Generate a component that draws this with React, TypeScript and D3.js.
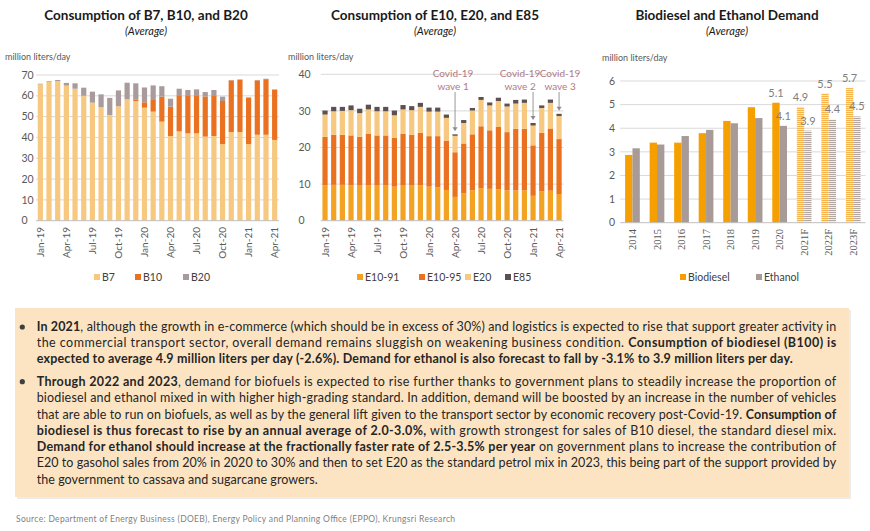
import * as d3 from "d3";

// ---- data ----
const months = [
  "Jan-19", "Feb-19", "Mar-19", "Apr-19", "May-19", "Jun-19", "Jul-19", "Aug-19", "Sep-19", "Oct-19",
  "Nov-19", "Dec-19", "Jan-20", "Feb-20", "Mar-20", "Apr-20", "May-20", "Jun-20", "Jul-20", "Aug-20",
  "Sep-20", "Oct-20", "Nov-20", "Dec-20", "Jan-21", "Feb-21", "Mar-21", "Apr-21",
];
const monthTicks = ["Jan-19", "Apr-19", "Jul-19", "Oct-19", "Jan-20", "Apr-20", "Jul-20", "Oct-20", "Jan-21", "Apr-21"];

const b7 = [65.5, 66.8, 67.1, 64.9, 63.4, 60.0, 56.7, 54.5, 50.8, 55.0, 58.3, 57.5, 54.3, 52.4, 47.6, 40.7, 42.9, 42.0, 42.0, 40.4, 40.7, 36.8, 42.6, 42.6, 36.8, 41.3, 41.3, 38.8];
const b10 = [0, 0, 0, 0, 0, 0, 0, 0, 0, 0, 0, 0.8, 2.6, 5.6, 12.0, 14.1, 17.0, 17.9, 17.9, 19.3, 19.2, 20.7, 24.8, 25.1, 22.3, 26.1, 26.7, 24.0];
const b20 = [0.3, 0.3, 0.5, 1.3, 2.6, 3.9, 5.3, 6.2, 8.2, 7.6, 8.0, 7.7, 7.1, 7.0, 5.0, 3.8, 3.5, 2.9, 3.2, 2.1, 2.9, 2.1, 0.2, 0.2, 0.2, 0.2, 0.2, 0.3];

const e1091 = [9.7, 9.8, 9.8, 9.7, 9.6, 9.7, 9.6, 9.6, 9.3, 9.6, 9.6, 9.7, 9.3, 9.1, 8.4, 6.5, 7.5, 8.3, 8.9, 8.7, 8.6, 8.3, 8.3, 8.3, 6.8, 8.0, 8.2, 7.3];
const e1095 = [13.2, 13.7, 13.7, 13.6, 13.3, 14.1, 13.7, 13.7, 13.3, 14.2, 13.9, 14.3, 13.8, 14.0, 13.5, 12.2, 13.6, 15.3, 16.9, 16.0, 17.0, 15.9, 16.8, 16.8, 13.8, 16.0, 17.0, 15.0];
const e20 = [6.1, 6.4, 6.5, 6.9, 6.5, 6.6, 6.6, 6.6, 6.2, 6.6, 6.7, 7.1, 6.7, 6.7, 6.2, 4.5, 5.6, 6.5, 7.2, 6.8, 7.1, 7.0, 6.9, 7.1, 5.4, 6.8, 7.0, 6.3];
const e85 = [1.1, 1.2, 1.1, 1.3, 1.2, 1.3, 1.2, 1.2, 1.3, 1.2, 1.1, 1.1, 1.1, 1.1, 0.9, 0.4, 0.8, 0.7, 0.8, 0.8, 0.9, 0.8, 1.0, 0.9, 0.7, 0.7, 0.9, 0.6];

const years = ["2014", "2015", "2016", "2017", "2018", "2019", "2020", "2021F", "2022F", "2023F"];
const biodiesel = [2.87, 3.39, 3.39, 3.79, 4.31, 4.89, 5.08, 4.9, 5.47, 5.7];
const ethanol = [3.15, 3.31, 3.67, 3.93, 4.21, 4.43, 4.1, 3.9, 4.37, 4.5];
const forecastYears = ["2021F", "2022F", "2023F"];
const labelledYears = ["2020", "2021F", "2022F", "2023F"];

const covidNotes = [
  { month: "Apr-20", lines: ["Covid-19", "wave 1"], dx: -2 },
  { month: "Jan-21", lines: ["Covid-19", "wave 2"], dx: -13 },
  { month: "Apr-21", lines: ["Covid-19", "wave 3"], dx: 1 },
];

const FONT = "Lato, 'Noto Sans', sans-serif";
const AXIS_TXT = "#595959";
const GRID = "#d9d9d9";

type Seg = { t: string; b?: boolean };
const para1: Seg[][] = [
  [{ t: "In 2021", b: true }, { t: ", although the growth in e-commerce (which should be in excess of 30%) and logistics is expected to rise that support greater activity in" }],
  [{ t: "the commercial transport sector, overall demand remains sluggish on weakening business condition. " }, { t: "Consumption of biodiesel (B100) is", b: true }],
  [{ t: "expected to average 4.9 million liters per day (-2.6%). Demand for ethanol is also forecast to fall by -3.1% to 3.9 million liters per day.", b: true }],
];
const para2: Seg[][] = [
  [{ t: "Through 2022 and 2023", b: true }, { t: ", demand for biofuels is expected to rise further thanks to government plans to steadily increase the proportion of" }],
  [{ t: "biodiesel and ethanol mixed in with higher high-grading standard. In addition, demand will be boosted by an increase in the number of vehicles" }],
  [{ t: "that are able to run on biofuels, as well as by the general lift given to the transport sector by economic recovery post-Covid-19. " }, { t: "Consumption of", b: true }],
  [{ t: "biodiesel is thus forecast to rise by an annual average of 2.0-3.0%,", b: true }, { t: " with growth strongest for sales of B10 diesel, the standard diesel mix." }],
  [{ t: "Demand for ethanol should increase at the fractionally faster rate of 2.5-3.5% per year", b: true }, { t: " on government plans to increase the contribution of" }],
  [{ t: "E20 to gasohol sales from 20% in 2020 to 30% and then to set E20 as the standard petrol mix in 2023, this being part of the support provided by" }],
  [{ t: "the government to cassava and sugarcane growers." }],
];

type PanelProps = {
  title: string;
  cx: number;
  unitX: number;
  tickX: number;
  range: [number, number];
  yMax: number;
  yTop: number;
  yTicks: number[];
  keys: string[];
  series: number[][];
  colors: string[];
  legendX: number[];
};

function StackedPanel(p: PanelProps) {
  const rows = months.map((m, i) => {
    const r: Record<string, any> = { month: m };
    p.keys.forEach((k, j) => (r[k] = p.series[j][i]));
    return r;
  });
  const stacked = d3.stack<any>().keys(p.keys)(rows);
  const x = d3.scaleBand().domain(months).range(p.range).paddingInner(0.4).paddingOuter(0.2);
  const y = d3.scaleLinear().domain([0, p.yMax]).range([220.7, p.yTop]);
  return (
    <g>
      <Titles title={p.title} cx={p.cx} />
      <text x={p.unitX} y={60} fontSize={9} fill={AXIS_TXT} fontFamily={FONT}>million liters/day</text>
      {p.yTicks.map((t) => (
        <g key={t}>
          {t > 0 && <line x1={p.range[0]} x2={p.range[1]} y1={y(t)} y2={y(t)} stroke={GRID} />}
          <text x={p.tickX} y={y(t)} dy="0.35em" fontSize={10.5} fill={AXIS_TXT} fontFamily={FONT}>{t}</text>
        </g>
      ))}
      {stacked.map((s, j) => (
        <g key={p.keys[j]} fill={p.colors[j]}>
          {s.map((d) => (
            <rect key={d.data.month} x={x(d.data.month)} width={x.bandwidth()} y={y(d[1])} height={Math.max(0, y(d[0]) - y(d[1]))} />
          ))}
        </g>
      ))}
      <line x1={p.range[0]} x2={p.range[1]} y1={y(0)} y2={y(0)} stroke="#bfbfbf" />
      {monthTicks.map((m) => (
        <text key={m} transform={`translate(${x(m)! + x.bandwidth() / 2},227) rotate(-90)`} textAnchor="end" dy="0.35em" fontSize={10} fill={AXIS_TXT} fontFamily={FONT}>{m}</text>
      ))}
      {p.keys.map((k, j) => (
        <g key={k}>
          <rect x={p.legendX[j]} y={274} width={6} height={6} fill={p.colors[j]} />
          <text x={p.legendX[j] + 8} y={277} dy="0.35em" fontSize={10.5} fill="#404040" fontFamily={FONT}>{k}</text>
        </g>
      ))}
    </g>
  );
}

function Titles({ title, cx }: { title: string; cx: number }) {
  return (
    <g fontFamily={FONT} textAnchor="middle" fill="#1a1a1a">
      <text x={cx} y={19.5} fontSize={13.5} fontWeight="bold">{title}</text>
      <text x={cx} y={34.5} fontSize={11} fontStyle="italic">(Average)</text>
    </g>
  );
}

function DemandPanel() {
  const x = d3.scaleBand().domain(years).range([620.2, 865.5]).paddingInner(0.4).paddingOuter(0.2);
  const sub = d3.scaleBand().domain(["Biodiesel", "Ethanol"]).range([0, x.bandwidth()]);
  const y = d3.scaleLinear().domain([0, 6]).range([222.7, 81]);
  const ticks = d3.range(0, 7);
  const fillFor = (key: string, yr: string) => {
    const f = forecastYears.includes(yr);
    if (key === "Biodiesel") return f ? "url(#bioF)" : "#f59f00";
    return f ? "url(#ethF)" : "#a89a96";
  };
  const seriesList = [
    { key: "Biodiesel", values: biodiesel },
    { key: "Ethanol", values: ethanol },
  ];
  return (
    <g>
      <Titles title="Biodiesel and Ethanol Demand" cx={727} />
      <text x={602} y={61} fontSize={9} fill={AXIS_TXT} fontFamily={FONT}>million liters/day</text>
      {ticks.map((t) => (
        <g key={t}>
          {t > 0 && <line x1={620.2} x2={865.5} y1={y(t)} y2={y(t)} stroke={GRID} />}
          <text x={609} y={y(t)} dy="0.35em" fontSize={10.5} fill={AXIS_TXT} fontFamily={FONT}>{t}</text>
        </g>
      ))}
      {seriesList.map((s) => (
        <g key={s.key}>
          {years.map((yr, i) => (
            <rect key={yr} x={x(yr)! + sub(s.key)!} width={sub.bandwidth()} y={y(s.values[i])} height={y(0) - y(s.values[i])} fill={fillFor(s.key, yr)} />
          ))}
          {years.map((yr, i) =>
            labelledYears.includes(yr) ? (
              <text key={yr} x={x(yr)! + sub(s.key)! + sub.bandwidth() / 2} y={y(s.values[i]) - 6} textAnchor="middle" fontSize={11} fill="#808080" fontFamily={FONT}>
                {d3.format(".1f")(s.values[i])}
              </text>
            ) : null
          )}
        </g>
      ))}
      <line x1={620.2} x2={865.5} y1={y(0)} y2={y(0)} stroke="#bfbfbf" />
      {years.map((yr) => (
        <text key={yr} transform={`translate(${x(yr)! + x.bandwidth() / 2},229) rotate(-90)`} textAnchor="end" dy="0.35em" fontSize={10.5} fill={AXIS_TXT} fontFamily="'Liberation Serif', serif">{yr}</text>
      ))}
      {[{ k: "Biodiesel", lx: 680, c: "#f59f00" }, { k: "Ethanol", lx: 756, c: "#a89a96" }].map((l) => (
        <g key={l.k}>
          <rect x={l.lx} y={274} width={6} height={6} fill={l.c} />
          <text x={l.lx + 8} y={277} dy="0.35em" fontSize={10.5} fill="#404040" fontFamily={FONT}>{l.k}</text>
        </g>
      ))}
    </g>
  );
}

function CovidNotes() {
  const x = d3.scaleBand().domain(months).range([320.7, 563.4]).paddingInner(0.4).paddingOuter(0.2);
  const y = d3.scaleLinear().domain([0, 40]).range([220.7, 74.3]);
  const totals = months.map((_, i) => e1091[i] + e1095[i] + e20[i] + e85[i]);
  return (
    <g fontFamily={FONT}>
      {covidNotes.map((n) => {
        const i = months.indexOf(n.month);
        const bx = x(n.month)! + x.bandwidth() / 2;
        const top = y(totals[i]) - 3;
        return (
          <g key={n.month}>
            <text x={bx + n.dx} y={77} textAnchor="middle" fontSize={10} fill="#b07a86">{n.lines[0]}</text>
            <text x={bx + n.dx} y={89.5} textAnchor="middle" fontSize={10} fill="#b07a86">{n.lines[1]}</text>
            <line x1={bx} x2={bx} y1={92} y2={top - 3} stroke="#8c8c8c" strokeWidth={0.9} />
            <path d={`M${bx - 2.5},${top - 4}L${bx + 2.5},${top - 4}L${bx},${top}Z`} fill="#8c8c8c" />
          </g>
        );
      })}
    </g>
  );
}

function TextLine({ segs, y, width }: { segs: Seg[]; y: number; width: number }) {
  return (
    <text x={36.7} y={y} fontSize={12.5} fill="#262626" fontFamily={FONT} textLength={width} lengthAdjust="spacing">
      {segs.map((s, i) => (
        <tspan key={i} fontWeight={s.b ? "bold" : "normal"}>{s.t}</tspan>
      ))}
    </text>
  );
}

function Commentary() {
  const p1y = [331, 347.3, 363.3];
  const p2y = [385.7, 402.2, 418.5, 434.7, 450.9, 467.2, 483.5];
  const w1 = [799.5, 799.5, 756];
  const w2 = [799.5, 799.5, 799.5, 799.5, 799.5, 799.5, 281];
  return (
    <g>
      <rect x={17} y={310} width={834} height={189} fill="#ececec" />
      <rect x={15} y={308} width={834} height={189} fill="#fce4c3" />
      <circle cx={22.3} cy={327} r={2.6} fill="#3f3f3f" />
      <circle cx={22.3} cy={381.7} r={2.6} fill="#3f3f3f" />
      {para1.map((l, i) => <TextLine key={"a" + i} segs={l} y={p1y[i]} width={w1[i]} />)}
      {para2.map((l, i) => <TextLine key={"b" + i} segs={l} y={p2y[i]} width={w2[i]} />)}
      <text x={16} y={522} fontSize={8.5} fill="#7f7f7f" fontFamily={FONT} textLength={439} lengthAdjust="spacing">
        Source: Department of Energy Business (DOEB), Energy Policy and Planning Office (EPPO), Krungsri Research
      </text>
    </g>
  );
}

export default function App() {
  return (
    <svg width={870} height={531} style={{ position: "absolute", left: 0, top: 0, background: "#fff" }}>
      <defs>
        <pattern id="bioF" width={6} height={2} patternUnits="userSpaceOnUse">
          <rect width={6} height={2} fill="#fde6c0" />
          <rect width={6} height={1} fill="#f7b44a" />
        </pattern>
        <pattern id="ethF" width={6} height={2} patternUnits="userSpaceOnUse">
          <rect width={6} height={2} fill="#f2eeed" />
          <rect width={6} height={1} fill="#b3a7a4" />
        </pattern>
      </defs>
      <StackedPanel
        title="Consumption of B7, B10, and B20"
        cx={146}
        unitX={5}
        tickX={21.5}
        range={[36, 279]}
        yMax={70}
        yTop={75}
        yTicks={[0, 10, 20, 30, 40, 50, 60, 70]}
        keys={["B7", "B10", "B20"]}
        series={[b7, b10, b20]}
        colors={["#f7c87f", "#ea7120", "#a99b9b"]}
        legendX={[94, 135, 183]}
      />
      <StackedPanel
        title="Consumption of E10, E20, and E85"
        cx={435}
        unitX={288}
        tickX={298.5}
        range={[320.7, 563.4]}
        yMax={40}
        yTop={74.3}
        yTicks={[0, 10, 20, 30, 40]}
        keys={["E10-91", "E10-95", "E20", "E85"]}
        series={[e1091, e1095, e20, e85]}
        colors={["#f3a221", "#ea7120", "#f7c87f", "#5c5150"]}
        legendX={[357, 419, 465, 505]}
      />
      <CovidNotes />
      <DemandPanel />
      <Commentary />
    </svg>
  );
}
